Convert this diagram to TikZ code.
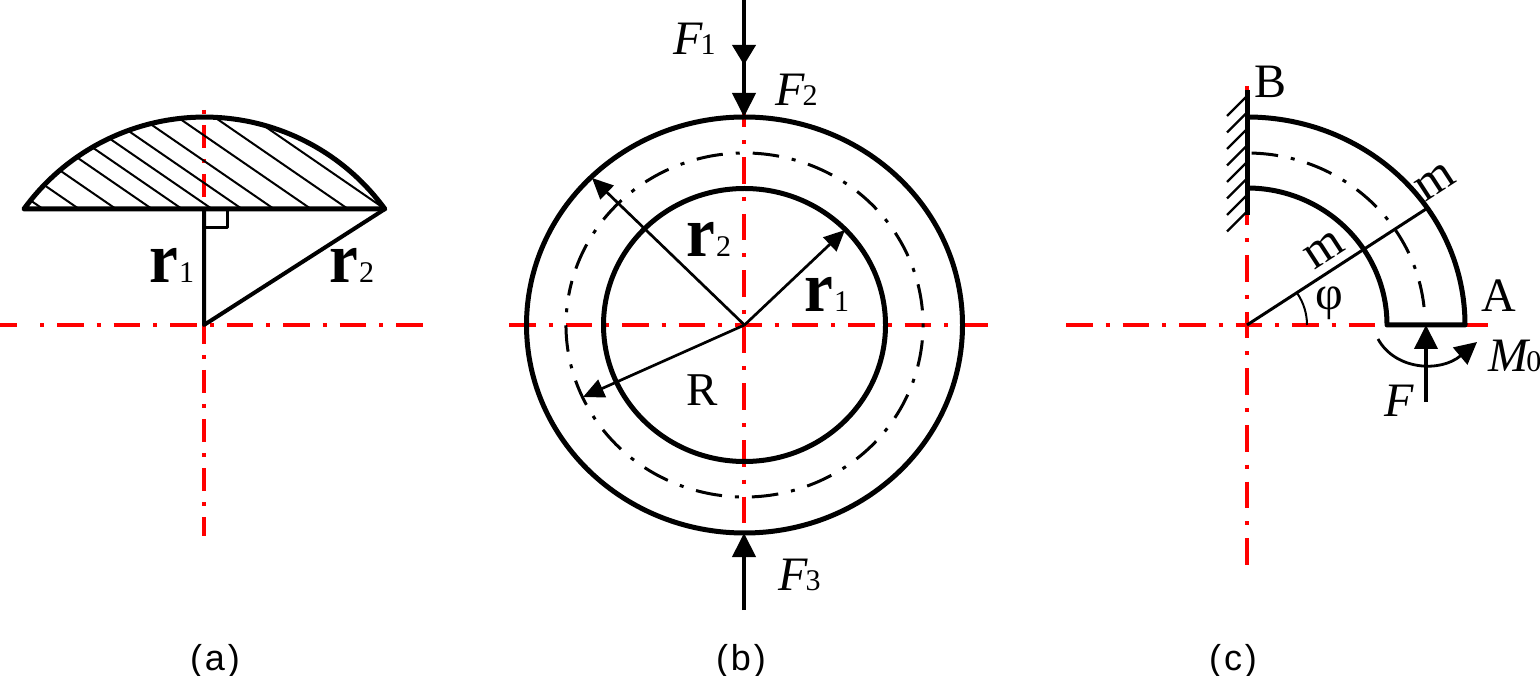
\documentclass[tikz,border=0pt]{standalone}
\usepackage{fontspec}
\usetikzlibrary{arrows.meta}
\setmainfont{Liberation Serif}
\newfontfamily\capfont{Liberation Sans}
\newcommand{\fz}[1]{\fontsize{#1}{#1}\selectfont}
\newcommand{\rsym}[1]{{\scalebox{.9}[1]{\fz{36pt}\bfseries r}\fz{15pt}\kern.5pt#1}}
\newcommand{\fsym}[2]{{\fz{24pt}\itshape #1\fz{15pt}\upshape\kern-1pt #2}}
\tikzset{
  axis/.style={draw=red,line width=1.75pt,dash pattern=on 13.25pt off 6.5pt on 2pt off 6.5pt},
  axis dot/.style={axis,dash pattern=on 2pt off 6.5pt on 13.25pt off 6.5pt},
  outline/.style={draw=black,line width=2.5pt},
  center line/.style={draw=black,line width=1.5pt,dash pattern=on 2pt off 6.5pt on 13.25pt off 6.5pt},
  thin line/.style={draw=black,line width=1.5pt},
  hatch/.style={draw=black,line width=1pt},
  force/.style={draw=black,line width=2pt,-{Triangle[length=12pt,width=11.5pt]}},
  small force/.style={draw=black,line width=2pt,-{Triangle[length=10pt,width=11.5pt]}},
  radius arrow/.style={draw=black,line width=1.35pt,-{Triangle[length=10.5pt,width=9.5pt]}},
  lab/.style={anchor=base west,inner sep=0pt,text=black},
  captext/.style={anchor=base,inner sep=0pt,text=black,font=\capfont\fz{18pt}}
}
\begin{document}
\begin{tikzpicture}[x=0.5pt,y=0.5pt,line join=round]
\useasboundingbox (0,0) rectangle (1540,675);
\fill[white] (0,0) rectangle (1540,675);
% ---------- (a)
\coordinate (ac) at (204,350);
\coordinate (al) at (24,466);
\coordinate (ar) at (385,466);
\coordinate (af) at (204,466);
\draw[axis,dash pattern=on 17pt off 1pt] (0,350) -- (17,350);
\draw[axis dot] (40,350) -- (425,350);
\draw[axis,dash pattern=on 2pt off 5.5pt on 11.5pt off 5.5pt] (204,565) -- (204,139);
\begin{scope}
  \clip (al) arc[start angle=144,end angle=36,radius=223] -- cycle;
  \foreach \x in {43,79,116,152,182,212,242,274,311,348,385}
    \draw[hatch] (\x,466) -- ++(-250,172);
\end{scope}
\draw[outline] (al) arc[start angle=144,end angle=36,radius=223] -- cycle;
\draw[thin line] (205,466) -- (227,466) -- (227,447) -- (205,447);
\draw[outline,line width=2pt] (af) -- (ac) -- (ar);
\node[lab] (ar1) at (149,392) {\rsym{1}};
\node[lab] (ar2) at (329,392) {\rsym{2}};
% ---------- (b)
\coordinate (bc) at (744.5,350);
\draw[axis] (509,350) -- (988,350);
\draw[axis] (744,574) -- (744,152);
\draw[outline] (bc) ellipse[x radius=218,y radius=208];
\draw[outline] (bc) ellipse[x radius=141,y radius=136.5];
\draw[center line] ([shift={(166.5:178.5 and 172)}]bc) arc[start angle=166.5,delta angle=-360,x radius=178.5,y radius=172];
\coordinate (f1a) at (744,675);
\coordinate (f1b) at (744,610);
\coordinate (f2b) at (744,558);
\coordinate (f3a) at (744,65);
\coordinate (f3b) at (744,142);
\coordinate (r2t) at (592,497);
\coordinate (r1t) at (845,445);
\coordinate (rRt) at (583,278);
\draw[small force] (f1a) -- (f1b);
\draw[force] (f1a) -- (f2b);
\draw[force] (f3a) -- (f3b);
\draw[radius arrow] (bc) -- (r2t);
\draw[radius arrow] (bc) -- (r1t);
\draw[radius arrow] (bc) -- (rRt);
\node[lab] (bF1) at (673,620) {\fsym{F}{1}};
\node[lab] (bF2) at (775,569) {\fsym{F}{2}};
\node[lab] (bF3) at (778,85) {\fsym{F}{3}};
\node[lab] (br2) at (686,418) {\rsym{2}};
\node[lab] (br1) at (804,363) {\rsym{1}};
\node[lab,font=\fz{23.5pt}] (bR) at (686,270) {R};
% ---------- (c)
\coordinate (cc) at (1247,350);
\draw[axis] (1066,350) -- (1490,350);
\draw[axis] (1247,589) -- (1247,110);
\draw[outline] (1247,558) arc[start angle=90,end angle=0,x radius=218,y radius=208]
  -- (1387,350) arc[start angle=0,end angle=90,x radius=140,y radius=137];
\draw[center line,dash pattern=on 13.25pt off 6.5pt on 2pt off 6.5pt] ([shift={(88.5:178 and 172)}]cc) arc[start angle=88.5,end angle=6,x radius=178,y radius=172];
\draw[outline] (1247,585) -- (1247,460);
\foreach \y in {578,561.5,545,528.5,512,495.5,479,462.5}
  \draw[hatch,line width=1.2pt] (1246,\y) -- ++(-19,-19);
\coordinate (cm) at (1426,466);
\draw[thin line] (cc) -- (cm);
\draw[thin line,line width=1pt] (1307,350) arc[start angle=0,end angle=33,x radius=60,y radius=58];
\coordinate (fa) at (1426,273);
\coordinate (fb) at (1426,350);
\draw[force] (fa) -- (fb);
\coordinate (ma) at (1378,336);
\coordinate (mb) at (1477,333);
\draw[force,line width=1.4pt,-{Triangle[length=11pt,width=11pt]}] (ma) .. controls (1395,305) and (1440,302) .. (mb);
\node[lab,font=\fz{24pt}] (cB) at (1254,577) {B};
\node[lab,font=\fz{24pt}] (cA) at (1481,363) {A};
\node[inner sep=0pt,rotate=33,font=\fz{25pt}] (cm1) at (1435,493) {m};
\node[inner sep=0pt,rotate=33,font=\fz{25pt}] (cm2) at (1324,425) {m};
\node[inner sep=0pt,font=\fz{24pt}] (cphi) at (1329,372) {φ};
\node[lab] (cM) at (1488,303) {\fsym{M}{0}};
\node[lab,font=\fz{24pt}\itshape] (cF) at (1384,258) {F};
% ---------- captions
\node[captext] (capa) at (215,5) {(\kern1.5pt a\kern1.5pt)};
\node[captext] (capb) at (741,5) {(\kern1.5pt b\kern1.5pt)};
\node[captext] (capc) at (1233,5) {(\kern1.5pt c\kern1.5pt)};
\end{tikzpicture}
\end{document}
